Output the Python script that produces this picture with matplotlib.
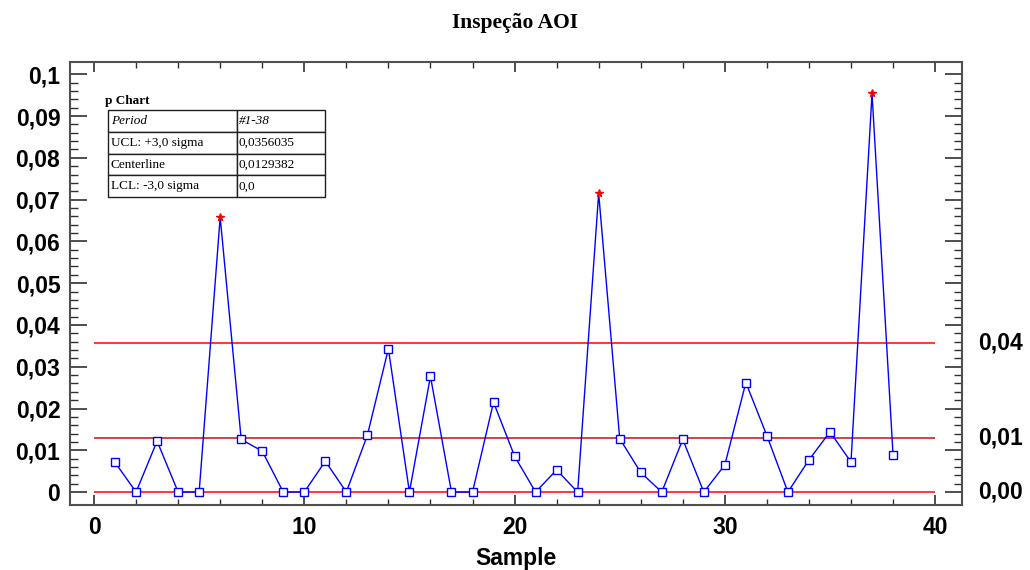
import numpy as np
import matplotlib
matplotlib.use('Agg')
import matplotlib.pyplot as plt
import matplotlib.transforms as mtransforms

plt.rcParams['font.family'] = 'Liberation Sans'

# data
samples = list(range(1, 39))
p_values = [0.0071, 0.0, 0.0122, 0.0, 0.0, 0.0658, 0.0126, 0.0098, 0.0, 0.0,
            0.0074, 0.0, 0.0136, 0.0343, 0.0, 0.0277, 0.0, 0.0, 0.0215, 0.0086,
            0.0, 0.0053, 0.0, 0.0715, 0.0128, 0.0047, 0.0, 0.0126, 0.0, 0.0065,
            0.0262, 0.0135, 0.0, 0.0077, 0.0144, 0.0072, 0.0954, 0.0089]
ucl = 0.0356035
center = 0.0129382
lcl = 0.0
right_labels = ['0,04', '0,01', '0,00']
table_rows = [['Period', '#1-38'],
              ['UCL: +3,0 sigma', '0,0356035'],
              ['Centerline', '0,0129382'],
              ['LCL: -3,0 sigma', '0,0']]
y_ticks = [0, 0.01, 0.02, 0.03, 0.04, 0.05, 0.06, 0.07, 0.08, 0.09, 0.1]
x_ticks = [0, 10, 20, 30, 40]

x = np.array(samples)
p = np.array(p_values)
out = p > ucl

fig = plt.figure(figsize=(10.3, 5.7), dpi=100)
ax = fig.add_axes([0.068, 0.114, 0.866, 0.777])

# control limits
ax.hlines([ucl, lcl], 0, 40, colors='#ff0000', linewidth=1.1, zorder=2)
ax.hlines(center, 0, 40, colors='#c81010', linewidth=1.1, zorder=2)

# sample line
ax.plot(x, p, color='#0000ff', linewidth=1.0, zorder=3)
ax.plot(x[~out], p[~out], linestyle='none', marker='s', markersize=5.5,
        markerfacecolor='white', markeredgecolor='#0000ff', markeredgewidth=1.0, zorder=4)
ax.plot(x[out], p[out], linestyle='none', marker='*', markersize=5.5,
        color='#ff0000', zorder=5)

ax.set_xlim(-1.14, 41.28)
ax.set_ylim(-0.0031, 0.1029)

ax.set_xticks(x_ticks)
ax.set_xticks(np.arange(0, 41, 2), minor=True)
ax.set_yticks(y_ticks)
ax.set_yticks(np.arange(0, 0.1001, 0.002), minor=True)
ylabels = [('%.2f' % v).rstrip('0').rstrip('.').replace('.', ',') for v in y_ticks]
ax.set_yticklabels(ylabels)

for lab in ax.get_xticklabels() + ax.get_yticklabels():
    lab.set_fontweight('bold')
    lab.set_fontsize(16.5)

ax.tick_params(axis='both', which='both', direction='in', top=True, right=True,
               color='#303030')
ax.tick_params(axis='y', which='major', length=12, width=1.2, pad=7)
ax.tick_params(axis='y', which='minor', length=6, width=1.0)
ax.tick_params(axis='x', which='major', length=7, width=1.2, pad=8)
ax.tick_params(axis='x', which='minor', length=4, width=1.0)

for s in ax.spines.values():
    s.set_color('#505050')
    s.set_linewidth(1.5)

ax.set_xlabel('Sample', fontsize=16.5, fontweight='bold', labelpad=6)

# labels of the control limits on the right
trans = mtransforms.blended_transform_factory(ax.transAxes, ax.transData)
for val, lab in zip([ucl, center, lcl], right_labels):
    ax.text(1.018, val, lab, transform=trans, ha='left', va='center',
            fontsize=16.5, fontweight='bold')

# summary table
ax.text(0.039, 0.913, 'p Chart', transform=ax.transAxes, ha='left', va='center',
        fontsize=9.5, fontweight='bold', family='Liberation Serif')
tbl = ax.table(cellText=table_rows, colWidths=[0.594, 0.406], cellLoc='left',
               bbox=[0.0426, 0.695, 0.243, 0.1964])
tbl.auto_set_font_size(False)
for (r, c), cell in tbl.get_celld().items():
    cell.set_linewidth(1.0)
    cell.set_edgecolor('#202020')
    cell.PAD = 0.02
    t = cell.get_text()
    t.set_fontsize(9.5)
    t.set_family('Liberation Serif')
    if r == 0:
        t.set_style('italic')

fig.suptitle('Inspeção AOI', y=0.978, fontsize=15.5, fontweight='bold',
             family='Liberation Serif')

fig.savefig('out.png', dpi=100)
